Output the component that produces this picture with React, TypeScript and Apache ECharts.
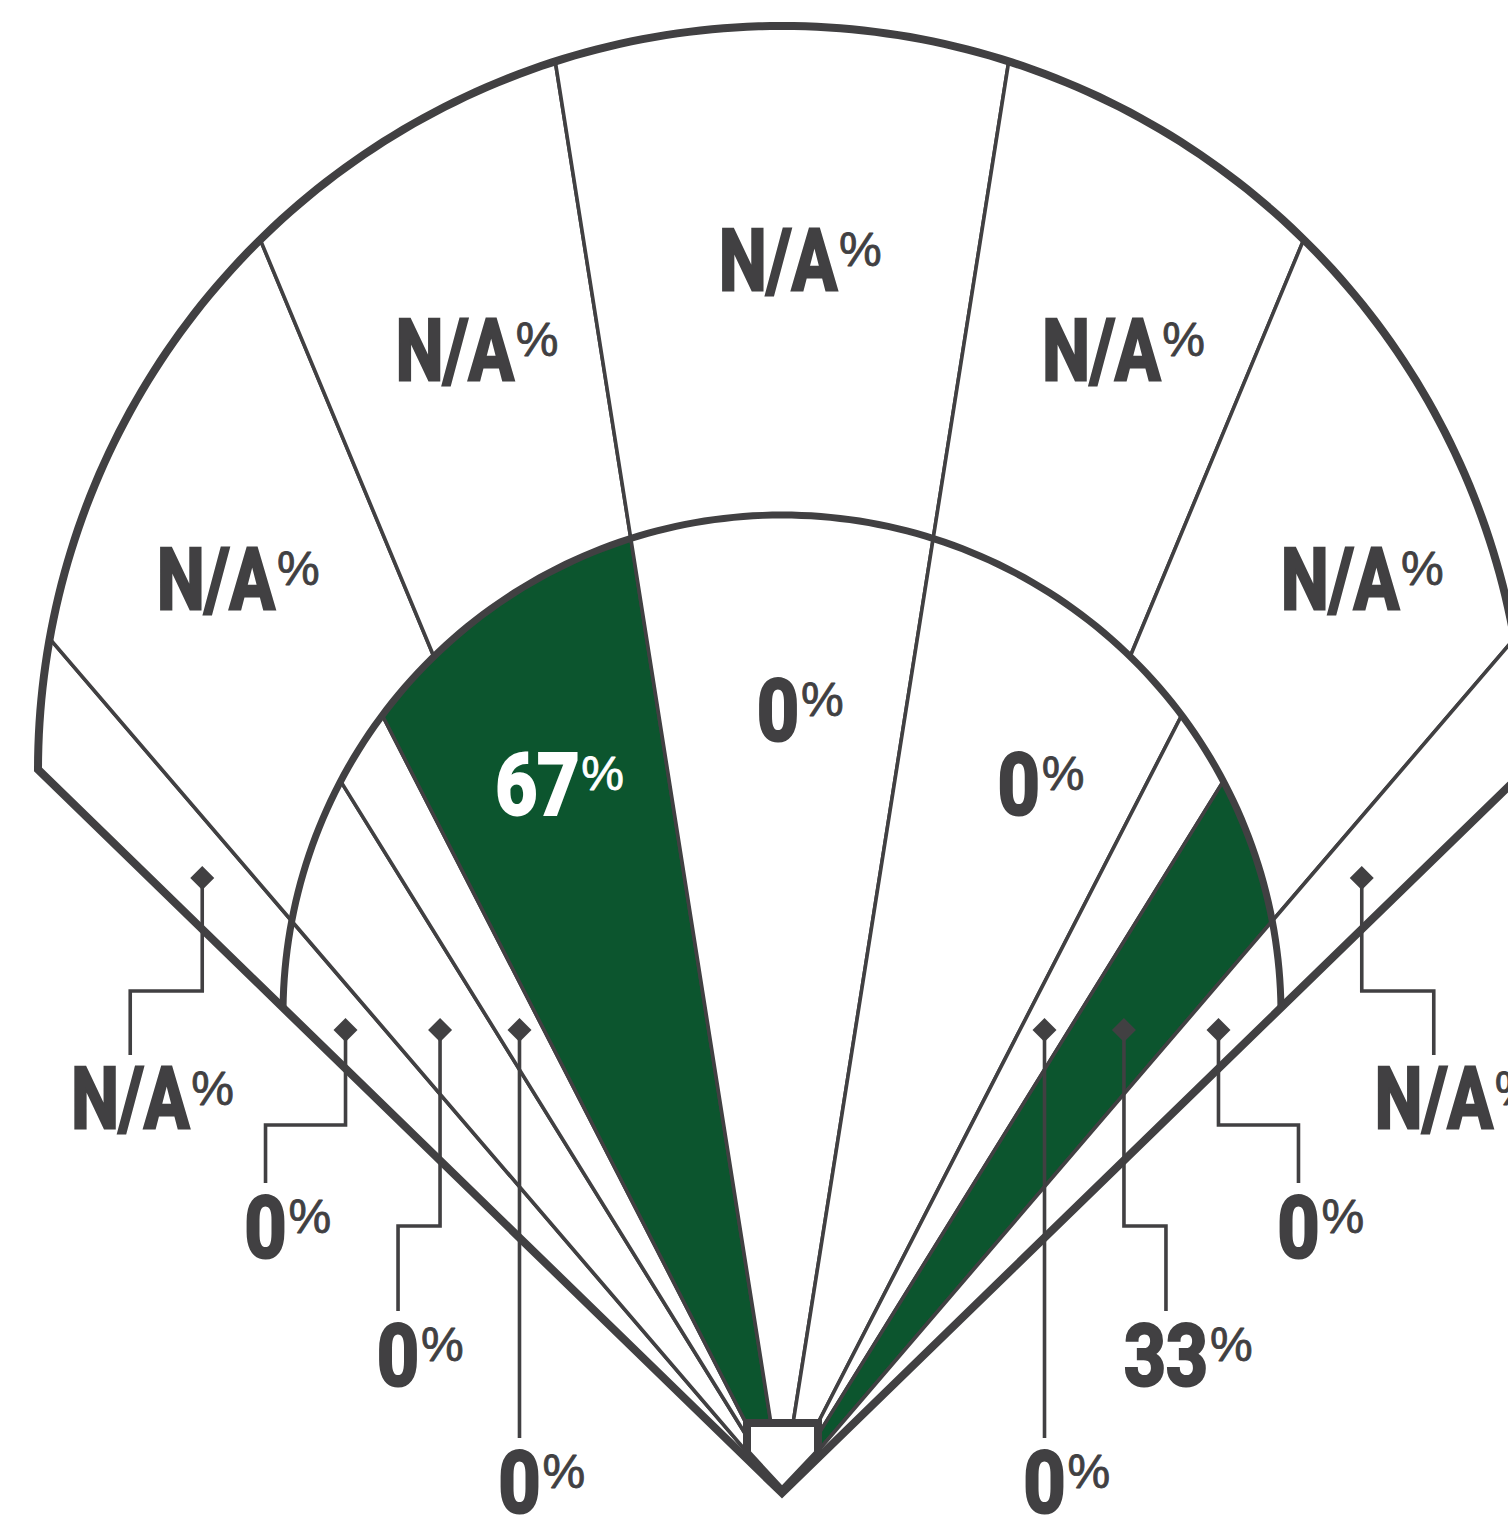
import React, { useEffect, useRef } from "react";
import * as echarts from "echarts";

// ---------------- data ----------------
const outfieldZones = ["Left Line", "Left Field", "Left-Center", "Center Field", "Right-Center", "Right Field", "Right Line"];
const outfieldValues: (number | null)[] = [null, null, null, null, null, null, null]; // N/A
const infieldZones = ["3B Line", "Third Base", "3B-SS Hole", "Shortstop", "Up the Middle", "Second Base", "2B-1B Hole", "First Base", "1B Line"];
const infieldValues: (number | null)[] = [0, 0, 0, 67, 0, 0, 0, 33, 0];
const NA_LABEL = "N/A";
const PCT_SUFFIX = "%";

// ---------------- layout / style ----------------
const W = 1508;
const H = 1524;
const GRAY = "#414042";
const GREEN = "#0c552e";
const WHITE = "#ffffff";
const HOME: [number, number] = [782, 1493];
const OUTER = { cx: 782, cy: 770, r: 744 };
const INNER = { cx: 782, cy: 1014, r: 499 };
// ray angles (degrees off vertical, from home plate)
const RAY_DEG = [-45.8, -40.6, -31.8, -27.2, -22.6, -9.0, 9.0, 22.6, 27.2, 31.8, 40.6, 45.8];
const OUTFIELD_EDGES = [[0, 1], [1, 4], [4, 5], [5, 6], [6, 7], [7, 10], [10, 11]];
const INFIELD_EDGES = [[0, 1], [1, 2], [2, 3], [3, 5], [5, 6], [6, 8], [8, 9], [9, 10], [10, 11]];
const OUT_LABEL_T = [0.5, 0.56, 0.52, 0.52, 0.52, 0.56, 0.5];
const IN_LABEL_T = 0.8;
const IN_LABEL_SPREAD = 1.04; // horizontal spread of infield labels about the centre line
const LEADERS = [
  { ring: 0, zone: 0, dy: 878, elbow: 991, shift: -72, end: 1055 },
  { ring: 0, zone: 6, dy: 878, elbow: 991, shift: 72, end: 1055 },
  { ring: 1, zone: 0, dy: 1030, elbow: 1125, shift: -80, end: 1183 },
  { ring: 1, zone: 1, dy: 1030, elbow: 1226, shift: -42, end: 1311 },
  { ring: 1, zone: 2, dy: 1030, elbow: null, shift: 0, end: 1438 },
  { ring: 1, zone: 6, dy: 1030, elbow: null, shift: 0, end: 1438 },
  { ring: 1, zone: 7, dy: 1030, elbow: 1226, shift: 42, end: 1311 },
  { ring: 1, zone: 8, dy: 1030, elbow: 1125, shift: 80, end: 1183 },
];
const PLATE = [[-35, -70], [36, -70], [36, -40], [0, -2], [-35, -40]];
const MAIN_FONT = 'bold 86px Roboto, "Liberation Sans", sans-serif';
const PCT_FONT = 'normal 48px "Liberation Sans", Arial, sans-serif';
const MAIN_STROKE = 3;
const PCT_STROKE = 0.8;
const NA_WIDTH = 118; // rendered width of "N/A"
const DIGIT_WIDTH = 42; // rendered advance per digit

// ---------------- geometry helpers ----------------
type Circ = { cx: number; cy: number; r: number };
const rad = (d: number) => (d * Math.PI) / 180;
const dir = (deg: number): [number, number] => [Math.sin(rad(deg)), -Math.cos(rad(deg))];
function hit(deg: number, c: Circ) {
  const [dx, dy] = dir(deg);
  const px = HOME[0] - c.cx, py = HOME[1] - c.cy;
  const b = dx * px + dy * py;
  const cc = px * px + py * py - c.r * c.r;
  const t = -b + Math.sqrt(b * b - cc);
  return { t, p: [HOME[0] + t * dx, HOME[1] + t * dy] as [number, number] };
}
function ang(c: Circ, p: number[]) {
  let a = Math.atan2(p[1] - c.cy, p[0] - c.cx);
  if (a > Math.PI / 2) a -= 2 * Math.PI;
  return a;
}
function arcPts(c: Circ, p0: number[], p1: number[], n = 60) {
  const a0 = ang(c, p0), a1 = ang(c, p1);
  const pts: number[][] = [];
  for (let i = 0; i <= n; i++) {
    const a = a0 + ((a1 - a0) * i) / n;
    pts.push([c.cx + c.r * Math.cos(a), c.cy + c.r * Math.sin(a)]);
  }
  return pts;
}
const rayX = (deg: number, y: number) => HOME[0] + (HOME[1] - y) * Math.tan(rad(deg));

let measureCtx: CanvasRenderingContext2D | null = null;
function measure(text: string, font: string) {
  if (!measureCtx) measureCtx = document.createElement("canvas").getContext("2d");
  if (!measureCtx) return text.length * 50;
  measureCtx.font = font;
  return measureCtx.measureText(text).width;
}

function labelEls(api: any, x: number, y: number, value: number, color: string) {
  const main = value < 0 ? NA_LABEL : String(value);
  const raw = measure(main, MAIN_FONT);
  const target = value < 0 ? NA_WIDTH : main.length * DIGIT_WIDTH;
  const s = target / raw;
  const [px, py] = api.coord([x, y]);
  return [
    {
      type: "text", x: px, y: py, scaleX: s,
      style: { text: main, font: MAIN_FONT, fill: color, stroke: color, lineWidth: MAIN_STROKE, lineJoin: "miter", align: "center", verticalAlign: "middle" },
    },
    {
      type: "text", x: px + target / 2 + 2, y: py - 11,
      style: { text: PCT_SUFFIX, font: PCT_FONT, fill: color, stroke: color, lineWidth: PCT_STROKE, align: "left", verticalAlign: "middle" },
    },
  ];
}

function buildOption(): any {
  const outData = outfieldValues.map((v, i) => ({ name: outfieldZones[i], value: [i, v == null ? -1 : v] }));
  const inData = infieldValues.map((v, i) => ({ name: infieldZones[i], value: [i, v == null ? -1 : v] }));
  const labelData = [
    ...outfieldValues.map((v, i) => ({ name: outfieldZones[i], value: [0, i, v == null ? -1 : v] })),
    ...infieldValues.map((v, i) => ({ name: infieldZones[i], value: [1, i, v == null ? -1 : v] })),
  ];

  return {
    animation: false,
    backgroundColor: WHITE,
    grid: { left: 0, right: 0, top: 0, bottom: 0 },
    xAxis: { type: "value", min: 0, max: W, show: false },
    yAxis: { type: "value", min: 0, max: H, inverse: true, show: false },
    series: [
      {
        name: "Outfield",
        type: "custom",
        coordinateSystem: "cartesian2d",
        silent: true,
        z: 1,
        data: outData,
        renderItem: (_p: any, api: any) => {
          const i = api.value(0);
          const v = api.value(1);
          const [a, b] = OUTFIELD_EDGES[i];
          const ia = hit(RAY_DEG[a], INNER).p, ib = hit(RAY_DEG[b], INNER).p;
          const oa = hit(RAY_DEG[a], OUTER).p, ob = hit(RAY_DEG[b], OUTER).p;
          const pts = [...arcPts(OUTER, oa, ob), ...arcPts(INNER, ib, ia)].map((p) => api.coord(p));
          return {
            type: "polygon",
            shape: { points: pts },
            style: { fill: v > 0 ? GREEN : WHITE, stroke: GRAY, lineWidth: 3.6, lineJoin: "round" },
          };
        },
      },
      {
        name: "Infield",
        type: "custom",
        coordinateSystem: "cartesian2d",
        silent: true,
        z: 1,
        data: inData,
        renderItem: (_p: any, api: any) => {
          const i = api.value(0);
          const v = api.value(1);
          const [a, b] = INFIELD_EDGES[i];
          const ia = hit(RAY_DEG[a], INNER).p, ib = hit(RAY_DEG[b], INNER).p;
          const pts = [HOME, ...arcPts(INNER, ia, ib)].map((p) => api.coord(p));
          return {
            type: "polygon",
            shape: { points: pts },
            style: { fill: v > 0 ? GREEN : WHITE, stroke: GRAY, lineWidth: 3.6, lineJoin: "round" },
          };
        },
      },
      {
        name: "Field",
        type: "custom",
        coordinateSystem: "cartesian2d",
        silent: true,
        z: 2,
        data: [[0, 0]],
        renderItem: (_p: any, api: any) => {
          const first = RAY_DEG[0], last = RAY_DEG[RAY_DEG.length - 1];
          const boundary = [HOME, ...arcPts(OUTER, hit(first, OUTER).p, hit(last, OUTER).p, 200)].map((p) => api.coord(p));
          const infieldArc = arcPts(INNER, hit(first, INNER).p, hit(last, INNER).p, 160).map((p) => api.coord(p));
          const plate = PLATE.map(([dx, dy]) => api.coord([HOME[0] + dx, HOME[1] + dy]));
          return {
            type: "group",
            children: [
              { type: "polygon", shape: { points: boundary }, style: { fill: "none", stroke: GRAY, lineWidth: 8, lineJoin: "miter", miterLimit: 10 } },
              { type: "polyline", shape: { points: infieldArc }, style: { fill: "none", stroke: GRAY, lineWidth: 7 } },
              { type: "polygon", shape: { points: plate }, style: { fill: WHITE, stroke: GRAY, lineWidth: 8, lineJoin: "miter" } },
            ],
          };
        },
      },
      {
        name: "Labels",
        type: "custom",
        coordinateSystem: "cartesian2d",
        silent: true,
        z: 3,
        data: labelData,
        renderItem: (_p: any, api: any) => {
          const ring = api.value(0);
          const i = api.value(1);
          const v = api.value(2);
          const edges = ring === 0 ? OUTFIELD_EDGES[i] : INFIELD_EDGES[i];
          const da = RAY_DEG[edges[0]], db = RAY_DEG[edges[1]];
          const leader = LEADERS.find((l) => l.ring === ring && l.zone === i);
          if (leader) {
            const x = (rayX(da, leader.dy) + rayX(db, leader.dy)) / 2;
            const lx = x + leader.shift;
            const path = leader.elbow == null
              ? [[x, leader.dy], [x, leader.end]]
              : [[x, leader.dy], [x, leader.elbow], [lx, leader.elbow], [lx, leader.end]];
            const d = 12;
            const diamond = [[x, leader.dy - d], [x + d, leader.dy], [x, leader.dy + d], [x - d, leader.dy]];
            return {
              type: "group",
              children: [
                { type: "polyline", shape: { points: path.map((p) => api.coord(p)) }, style: { fill: "none", stroke: GRAY, lineWidth: 3.6, lineJoin: "miter" } },
                { type: "polygon", shape: { points: diamond.map((p) => api.coord(p)) }, style: { fill: GRAY } },
                ...labelEls(api, lx, leader.end + 44, v, GRAY),
              ],
            };
          }
          const m = (da + db) / 2;
          const [ux, uy] = dir(m);
          let lx: number, ly: number;
          if (ring === 0) {
            const ti = hit(m, INNER).t, to = hit(m, OUTER).t;
            const t = ti + OUT_LABEL_T[i] * (to - ti);
            lx = HOME[0] + t * ux;
            ly = HOME[1] + t * uy;
          } else {
            const t = IN_LABEL_T * hit(m, INNER).t;
            lx = HOME[0] + t * ux * IN_LABEL_SPREAD;
            ly = HOME[1] + t * uy;
          }
          const color = v > 0 ? WHITE : GRAY;
          return { type: "group", children: labelEls(api, lx - 4, ly, v, color) };
        },
      },
    ],
  };
}

export default function App() {
  const ref = useRef<HTMLDivElement>(null);
  useEffect(() => {
    if (!ref.current) return;
    const chart = echarts.init(ref.current, null, { renderer: "svg" });
    chart.setOption(buildOption());
    return () => chart.dispose();
  }, []);
  return <div ref={ref} style={{ position: "fixed", left: 0, top: 0, width: W, height: H, background: WHITE }} />;
}
